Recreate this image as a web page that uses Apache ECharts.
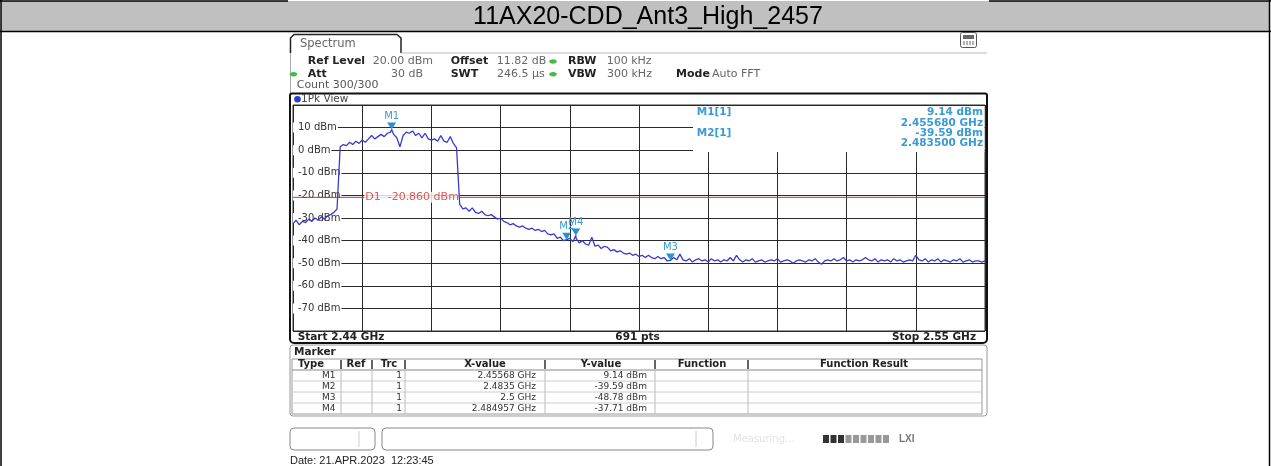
<!DOCTYPE html>
<html><head><meta charset="utf-8">
<script src="https://cdn.jsdelivr.net/npm/echarts@6/dist/echarts.min.js"></script>
<style>html,body{margin:0;padding:0;background:#fff;overflow:hidden}#c{width:1271px;height:466px}</style>
</head><body><div id="c"></div>
<script>
// ---------------- data ----------------
const chartTitle = '11AX20-CDD_Ant3_High_2457';
const startGHz = 2.44;
const stopGHz = 2.55;
const traceStepGHz = 0.0005;
const sweepPoints = 691;
const traceDbm = [
  -32.5,-31.0,-33.0,-31.5,-32.0,-30.5,-31.5,-30.0,-31.0,-29.5,-30.5,-29.0,-28.5,-27.5,-26.0,
  1.5,2.5,2.0,3.5,2.5,4.0,3.0,4.5,3.5,5.0,6.5,5.0,6.0,7.0,6.0,7.5,8.0,7.0,5.5,1.5,
  6.5,8.0,7.5,8.5,6.5,7.5,5.5,7.5,5.0,4.5,5.0,4.0,6.5,4.0,3.5,6.0,3.0,1.0,
  -24.0,-26.0,-25.5,-27.0,-25.5,-27.5,-28.0,-27.0,-28.5,-29.0,-28.5,-29.5,-30.5,-30.0,-31.5,-32.0,-33.0,-32.5,-33.5,-34.0,
  -33.5,-34.5,-35.0,-34.5,-35.5,-35.0,-36.0,-35.5,-37.0,-37.5,-37.0,-39.0,-38.5,-40.0,
  -39.59,-39.0,-40.5,-39.0,-41.0,-40.0,-41.5,-42.0,-38.5,-42.5,-42.0,-43.5,-42.5,-43.0,-44.5,-44.0,-45.0,-44.5,
  -45.5,-46.0,-45.5,-46.5,-46.0,-47.0,-46.5,-47.5,-46.5,-47.5,-48.0,-47.0,-48.0,-47.5,-49.0,-48.78,
  -47.5,-48.5,-46.0,-48.5,-49.0,-48.0,-49.5,-48.5,-48.0,-49.0,-48.5,-49.5,-48.0,-49.0,-48.5,-49.5,-48.5,-49.0,-47.5,-49.0,
  -46.5,-48.5,-49.5,-48.5,-49.0,-48.0,-49.5,-49.0,-48.5,-49.5,-49.0,-48.5,-49.0,-48.0,-49.5,-49.0,-48.5,-49.0,-50.0,-49.0,
  -48.5,-49.0,-49.5,-48.5,-49.0,-48.0,-49.5,-50.5,-49.0,-48.5,-49.0,-48.0,-49.0,-48.5,-47.5,-49.0,-48.5,-49.5,-48.5,-49.0,
  -48.5,-47.5,-48.5,-49.0,-48.0,-49.5,-48.5,-49.0,-48.5,-49.5,-48.0,-49.0,-48.5,-49.5,-49.0,-48.5,-49.0,-46.5,-48.5,-49.0,
  -48.0,-49.5,-48.5,-49.0,-48.0,-49.5,-48.5,-49.0,-49.5,-48.5,-49.0,-48.0,-49.5,-49.0,-48.5,-49.5,-49.0,-49.0,-49.5,-49.0
];
const yTickValues = [20,10,0,-10,-20,-30,-40,-50,-60,-70,-80];
const markerNames = ['M1','M2','M3','M4'];
const markerFreqGHz = [2.45568, 2.4835, 2.5, 2.484957];
const markerDbm = [9.14, -39.59, -48.78, -37.71];
const markerTrace = [1,1,1,1];
const d1Dbm = -20.86;
const instrRow1 = [['Ref Level','20.00 dBm'],['Offset','11.82 dB'],['RBW','100 kHz']];
const instrRow2 = [['Att','30 dB'],['SWT','246.5 µs'],['VBW','300 kHz'],['Mode','Auto FFT']];
const countText = 'Count 300/300';
const viewText = '1Pk View';
const tableHeaders = ['Type','Ref','Trc','X-value','Y-value','Function','Function Result'];
const dateText = 'Date: 21.APR.2023  12:23:45';

// ---------------- build ----------------
const toX = g => (g - startGHz) * 1000; // MHz from start
let tracePts = traceDbm.map((v, i) => [i * traceStepGHz * 1000, v]);
markerFreqGHz.forEach((f, k) => tracePts.push([toX(f), markerDbm[k]]));
tracePts.sort((a, b) => a[0] - b[0]);
const spanMHz = (stopGHz - startGHz) * 1000;
const yMin = yTickValues[yTickValues.length - 1], yMax = yTickValues[0];

const FONT = '"DejaVu Sans", Verdana, sans-serif';
const ARIAL = '"Liberation Sans", Arial, sans-serif';
function T(x, y, text, o = {}) {
  return { type: 'text', x, y, z: o.z ?? 50, silent: true, scaleX: o.sx ?? 1,
    style: { text, fill: o.c || '#333',
      font: (o.b ? 'bold ' : '') + (o.s || 11) + 'px ' + (o.f || FONT),
      textAlign: o.a || 'left', textVerticalAlign: 'middle', align: o.a || 'left', verticalAlign: 'middle' } };
}
function L(x1, y1, x2, y2, c, w, z) {
  return { type: 'line', z: z ?? 40, silent: true, shape: { x1, y1, x2, y2 }, style: { stroke: c || '#000', lineWidth: w || 1 } };
}
function R(x, y, w, h, o = {}) {
  return { type: 'rect', z: o.z ?? 40, silent: true, shape: { x, y, width: w, height: h, r: o.r || 0 },
    style: { fill: o.fill || null, stroke: o.stroke || null, lineWidth: o.lw || 1 } };
}
const BLUE_M = '#3a9ad4';
const g = [];
// document frame + header
g.push(R(1, 1, 1268, 30, { fill: '#c0c0c0', z: 1 }));
g.push(L(0, 1, 288, 1, '#000', 1.5), L(989, 1, 1271, 1, '#000', 1.5));
g.push(L(0, 31.5, 1271, 31.5, '#000', 1.5));
g.push(L(1, 0, 1, 466, '#000', 1.5), L(1269.5, 0, 1269.5, 466, '#000', 1.5));
g.push(T(648, 17, chartTitle, { s: 25, f: ARIAL, c: '#000', a: 'center' }));
// tab
g.push({ type: 'polyline', z: 40, silent: true, shape: { points: [[290.5,53],[290.5,38],[294,34.5],[397,34.5],[401,38],[401,53]] }, style: { stroke: '#222', lineWidth: 1.5, fill: null } });
g.push(T(300, 44.5, 'Spectrum', { s: 11.5, c: '#666' }));
g.push(L(401, 53, 987, 53, '#bbb', 1));
g.push(L(290.5, 53, 290.5, 93, '#aaa', 1));
// icon
g.push(R(960.5, 32.5, 16, 15, { stroke: '#555', r: 2 }));
g.push(R(963, 35, 11, 4, { fill: '#666' }));
g.push(L(964, 41, 964, 45, '#666'), L(967, 41, 967, 45, '#666'), L(970, 41, 970, 45, '#666'), L(973, 41, 973, 45, '#666'));
// instrument setting rows
const r1x = [[307.7, 433], [450.7, 496.7], [568, 606.7]];
instrRow1.forEach((p, k) => {
  g.push(T(r1x[k][0], 61.5, p[0], { b: 1, c: '#222' }));
  g.push(k === 0 ? T(r1x[k][1], 61.5, p[1], { a: 'right', c: '#666' }) : T(r1x[k][1], 61.5, p[1], { c: '#666' }));
});
const r2x = [[307.7, 423], [450.7, 497], [568, 607], [676, 712]];
instrRow2.forEach((p, k) => {
  g.push(T(r2x[k][0], 74.3, p[0], { b: 1, c: '#222' }));
  g.push(k === 0 ? T(r2x[k][1], 74.3, p[1], { a: 'right', c: '#666' }) : T(r2x[k][1], 74.3, p[1], { c: '#666' }));
});
[[553, 61.5], [553, 74.3], [293.5, 74.3]].forEach(p => g.push({ type: 'ellipse', z: 45, silent: true, shape: { cx: p[0], cy: p[1], rx: 3.8, ry: 2.2 }, style: { fill: '#45b845' } }));
g.push(T(296.7, 85.5, countText, { c: '#555' }));
// plot frame
g.push(R(290, 93.5, 697, 249.5, { stroke: '#111', lw: 2, r: [2, 2, 4, 4] }));
g.push({ type: 'circle', z: 45, silent: true, shape: { cx: 297.5, cy: 99.3, r: 3.3 }, style: { fill: '#1f3fd0' } });
g.push(T(301, 99.3, viewText, { s: 10.5, c: '#444' }));
// marker info box (top right)
g.push(R(693, 106, 291.5, 46, { fill: '#fff', z: 1 }));
[0, 1].forEach(k => {
  const y0 = 112.7 + k * 20.6;
  g.push(T(696.7, y0, markerNames[k] + '[' + markerTrace[k] + ']', { b: 1, s: 10.5, c: BLUE_M }));
  g.push(T(983, y0, markerDbm[k].toFixed(2) + ' dBm', { b: 1, s: 10.5, c: BLUE_M, a: 'right' }));
  g.push(T(983, y0 + 10.4, markerFreqGHz[k].toFixed(6) + ' GHz', { b: 1, s: 10.5, c: BLUE_M, a: 'right' }));
});
// start / stop row
g.push(T(297.7, 337, 'Start ' + startGHz + ' GHz', { b: 1, s: 10.5, c: '#222' }));
g.push(T(637.5, 337, sweepPoints + ' pts', { b: 1, s: 10.5, c: '#222', a: 'center' }));
g.push(T(976, 337, 'Stop ' + stopGHz + ' GHz', { b: 1, s: 10.5, c: '#222', a: 'right' }));
// marker table
g.push(R(290, 345, 697, 71, { stroke: '#999', r: 3 }));
g.push(T(294, 352, 'Marker', { b: 1, s: 10.5, c: '#222' }));
const colX = [292, 341, 372, 405, 545, 655, 748, 982];
const hTop = 359, hBot = 370, rowH = 11;
g.push(R(292, hTop, 690, hBot - hTop + rowH * 4, { stroke: '#999' }));
g.push(L(292, hBot, 982, hBot, '#888'));
for (let r = 1; r < 4; r++) g.push(L(292, hBot + r * rowH, 982, hBot + r * rowH, '#ccc'));
for (let c = 1; c < colX.length - 1; c++) {
  g.push(L(colX[c], hTop + 1, colX[c], hBot - 1, '#333', 1.5));
  g.push(L(colX[c], hBot, colX[c], hBot + rowH * 4, '#bbb'));
}
const headCx = [311, 356, 389, 485, 601, 702, 864];
tableHeaders.forEach((h, k) => g.push(T(headCx[k], 364.5, h, { b: 1, s: 10, c: '#222', a: 'center' })));
markerNames.forEach((m, k) => {
  const y0 = hBot + rowH * k + rowH / 2;
  g.push(T(335.5, y0, m, { s: 9, c: '#333', a: 'right' }));
  g.push(T(402, y0, String(markerTrace[k]), { s: 9, c: '#333', a: 'right' }));
  g.push(T(536, y0, markerFreqGHz[k] + ' GHz', { s: 9, c: '#333', a: 'right' }));
  g.push(T(647, y0, markerDbm[k].toFixed(2) + ' dBm', { s: 9, c: '#333', a: 'right' }));
});
// status bar
g.push(R(290, 428, 85, 22, { stroke: '#888', r: 4 }));
g.push(L(359, 431, 359, 447, '#ccc'));
g.push(R(382, 428, 331, 22, { stroke: '#888', r: 4 }));
g.push(L(696, 431, 696, 447, '#ccc'));
g.push(T(733, 439, 'Measuring...', { s: 10, c: '#e2e2e2' }));
for (let b = 0; b < 9; b++) g.push(R(823 + b * 7.5, 435, 6, 8, { fill: b < 3 ? '#333' : '#999' }));
g.push(T(899, 439, 'LXI', { b: 1, s: 10, c: '#777', f: ARIAL }));
// date
g.push(T(290, 461, dateText, { s: 11, f: ARIAL, c: '#222' }));

const markerData = markerNames.map((n, k) => ({ name: n, coord: [toX(markerFreqGHz[k]), markerDbm[k]] }));

const option = {
  animation: false,
  grid: { left: 293, top: 105, width: 692, height: 226, show: true, borderColor: '#333', borderWidth: 1, backgroundColor: 'transparent' },
  xAxis: { type: 'value', min: 0, max: spanMHz, interval: spanMHz / 10,
    axisLine: { show: false }, axisTick: { show: false }, axisLabel: { show: false },
    splitLine: { show: true, lineStyle: { color: '#2a2a2a', width: 1 } } },
  yAxis: [
    { type: 'value', position: 'left', min: yMin, max: yMax, interval: 10,
      axisLine: { show: false }, axisTick: { show: false }, axisLabel: { show: false },
      splitLine: { show: true, lineStyle: { color: '#2a2a2a', width: 1 } }, z: 0 },
    { type: 'value', position: 'left', offset: 0, min: yMin, max: yMax, interval: 10, z: 1,
      axisLine: { show: false }, axisTick: { show: false }, splitLine: { show: false },
      axisLabel: { inside: true, margin: 0, color: '#333', fontSize: 10, fontFamily: FONT,
        backgroundColor: '#fff', padding: [0, 1, 0, 5],
        formatter: v => (v === yMax || v === yMin) ? '' : v + ' dBm' } }
  ],
  graphic: { elements: g },
  series: [
    { type: 'line', name: 'D1', data: [[0, d1Dbm], [spanMHz, d1Dbm]], showSymbol: false, z: 2,
      lineStyle: { color: '#c83232', width: 1 }, silent: true },
    { type: 'scatter', data: [[toX(2.451), d1Dbm]], symbolSize: 0, z: 3, silent: true,
      label: { show: true, position: 'right', distance: 2, formatter: 'D1  ' + d1Dbm.toFixed(3) + ' dBm',
        color: '#cc3333', fontSize: 11, fontFamily: FONT, backgroundColor: '#fff', padding: [0, 1] } },
    { type: 'line', name: 'Trc1', data: tracePts, showSymbol: false, z: 4,
      lineStyle: { color: '#3a3acc', width: 1.3 },
      markPoint: { symbol: 'triangle', symbolRotate: 180, symbolSize: [9, 7], symbolOffset: [0, -3.5],
        itemStyle: { color: '#2b8fd0' },
        label: { show: true, position: 'top', distance: 1, formatter: '{b}', color: BLUE_M, fontSize: 10, fontFamily: FONT },
        data: markerData } }
  ]
};
const chart = echarts.init(document.getElementById('c'), null, { renderer: 'canvas' });
chart.setOption(option);
</script>
</body></html>
